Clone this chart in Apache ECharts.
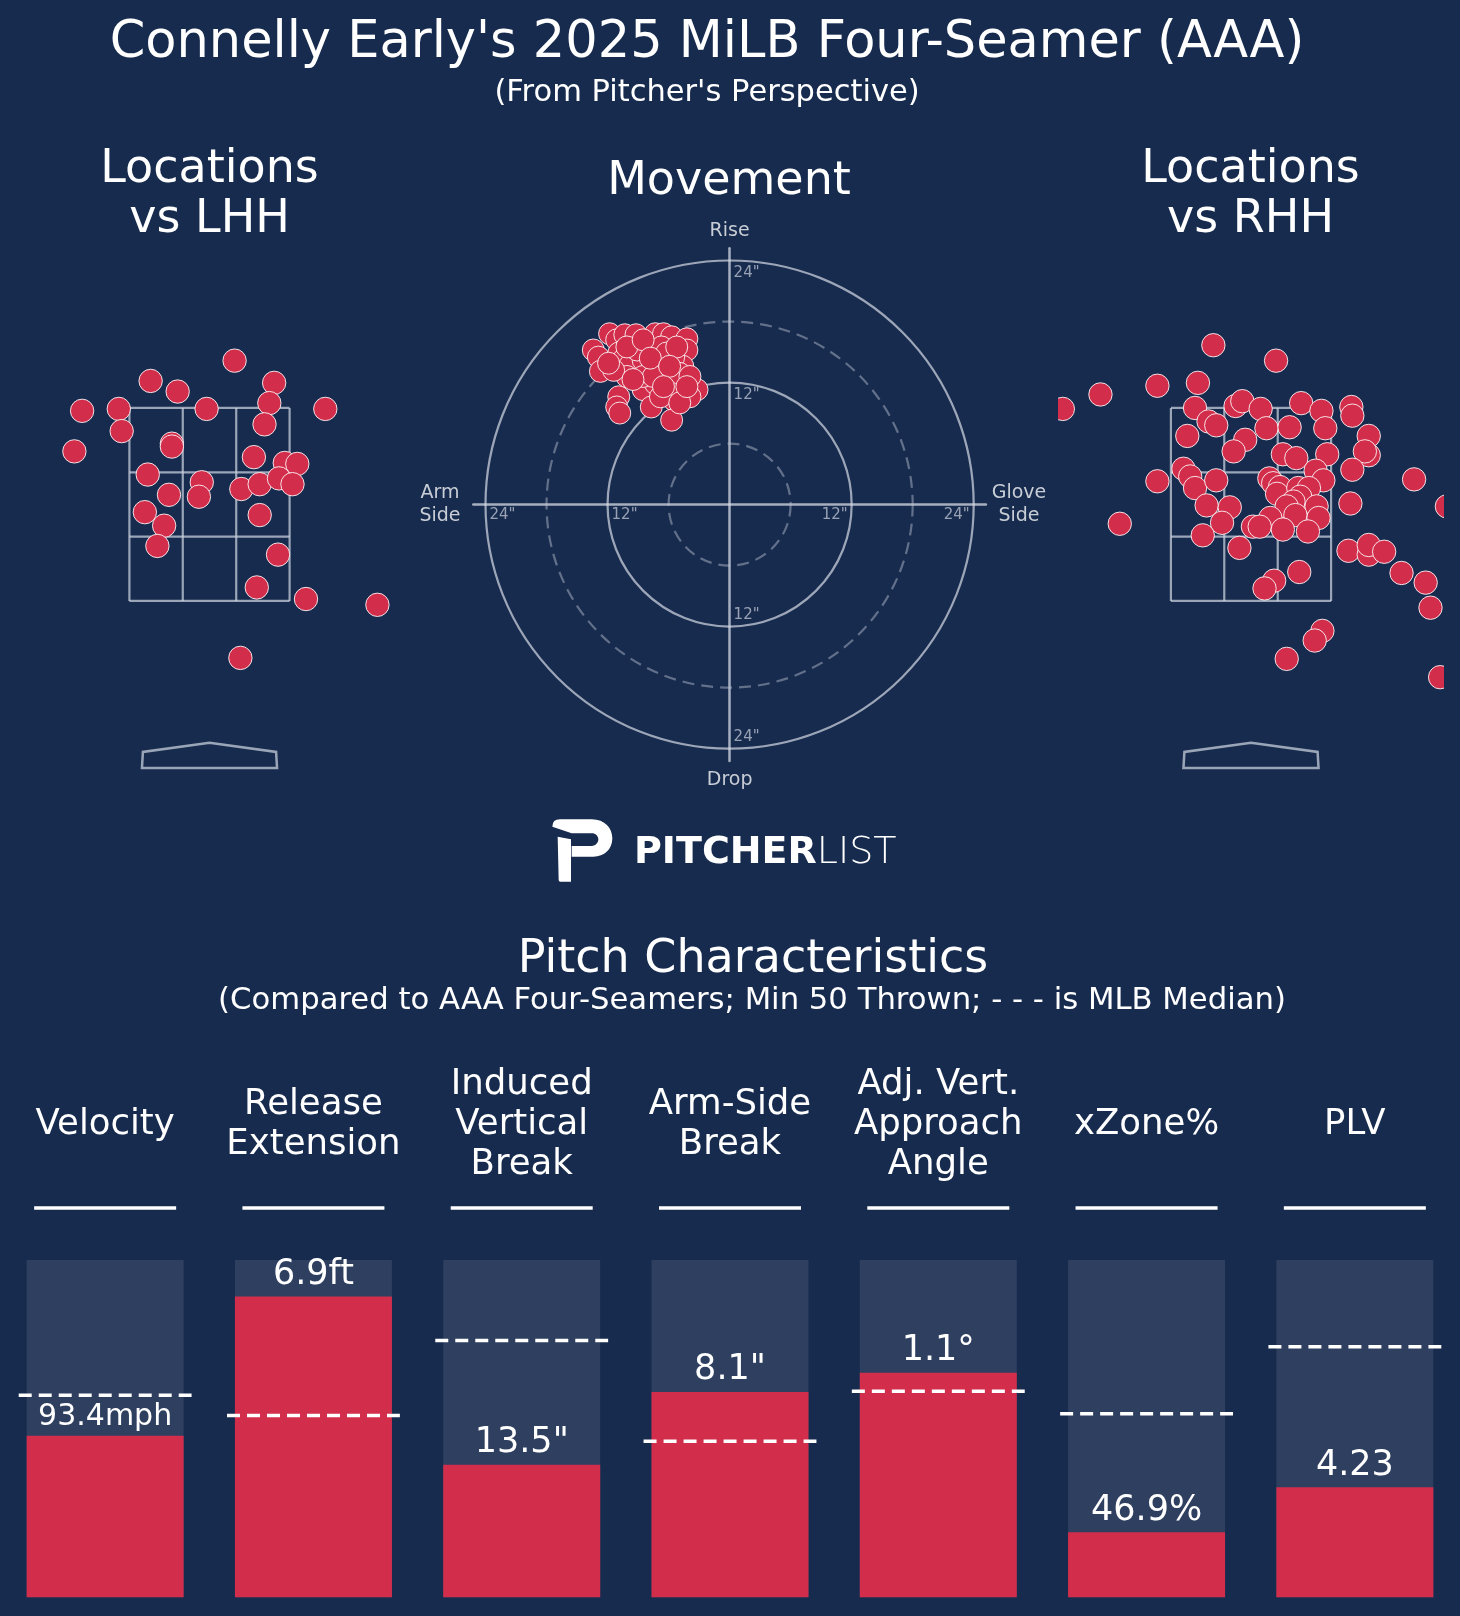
<!DOCTYPE html>
<html>
<head>
<meta charset="utf-8">
<script src="https://cdn.jsdelivr.net/npm/echarts@6/dist/echarts.min.js"></script>
<style>
  html, body { margin: 0; padding: 0; background: #172b4e; }
  #chart { width: 1460px; height: 1616px; }
</style>
</head>
<body>
<div id="chart"></div>
<script>
// pitch locations (plate_x ft, plate_z ft), pitcher's view
const lhhPitches = [
  [0.26, 3.99], [-0.61, 3.78], [-0.33, 3.67], [0.67, 3.76], [0.62, 3.55], [-1.32, 3.47],
  [-0.94, 3.49], [-0.03, 3.49], [1.20, 3.49], [-0.91, 3.26], [0.57, 3.33], [-1.40, 3.05],
  [-0.39, 3.13], [-0.39, 3.10], [0.46, 2.99], [0.78, 2.93], [0.91, 2.92], [-0.64, 2.81],
  [-0.08, 2.73], [-0.11, 2.58], [-0.42, 2.60], [0.33, 2.66], [0.52, 2.71], [0.72, 2.77],
  [0.86, 2.71], [-0.67, 2.42], [0.52, 2.39], [-0.47, 2.28], [-0.54, 2.07], [0.71, 1.98],
  [0.49, 1.64], [1.00, 1.52], [1.74, 1.46], [0.32, 0.91]
];
const rhhPitches = [
  [-0.39, 4.15], [0.26, 3.99], [-1.56, 3.64], [-0.97, 3.73], [-0.55, 3.76], [-1.95, 3.49],
  [-0.58, 3.50], [-0.16, 3.52], [-0.09, 3.57], [0.10, 3.49], [0.52, 3.55], [0.73, 3.47],
  [1.04, 3.51], [1.05, 3.42], [-0.44, 3.36], [-0.36, 3.32], [-0.66, 3.21], [-0.06, 3.17],
  [-0.18, 3.05], [0.16, 3.29], [0.40, 3.30], [0.77, 3.29], [1.22, 3.21], [1.22, 3.01],
  [1.18, 3.05], [0.79, 3.02], [0.33, 3.02], [0.47, 2.98], [1.05, 2.86], [-0.70, 2.87],
  [-0.63, 2.79], [-0.58, 2.67], [-0.36, 2.75], [-0.97, 2.74], [0.19, 2.77], [0.23, 2.72],
  [0.67, 2.85], [0.75, 2.75], [0.30, 2.68], [0.27, 2.61], [0.49, 2.67], [0.60, 2.67],
  [0.51, 2.58], [0.44, 2.53], [-0.46, 2.49], [-0.22, 2.47], [-0.30, 2.31], [0.37, 2.48],
  [0.68, 2.48], [0.46, 2.39], [0.70, 2.36], [0.20, 2.36], [0.02, 2.27], [0.09, 2.27],
  [0.33, 2.24], [0.59, 2.22], [-0.50, 2.18], [1.03, 2.51], [1.69, 2.76], [2.03, 2.48],
  [-1.36, 2.30], [-0.12, 2.05], [1.01, 2.02], [1.22, 1.98], [1.22, 2.08], [1.38, 2.01],
  [1.56, 1.79], [1.81, 1.69], [1.86, 1.43], [0.50, 1.80], [0.24, 1.71], [0.14, 1.63],
  [0.74, 1.19], [0.66, 1.09], [0.37, 0.90], [1.96, 0.71]
];
// movement (horizontal break in, arm side negative; induced vertical break in)
const movementPitches = [
  [-13.4, 15.2], [-12.9, 14.5], [-12.7, 13.1], [-11.8, 16.8], [-11.1, 16.2], [-10.9, 14.9],
  [-10.3, 16.7], [-9.2, 16.7], [-10.5, 14.2], [-10.9, 10.6], [-11.1, 9.6], [-10.8, 9.0],
  [-8.5, 11.3], [-7.7, 9.6], [-7.3, 16.8], [-6.5, 16.8], [-5.7, 16.5], [-4.2, 16.3],
  [-4.2, 15.2], [-4.6, 13.6], [-5.5, 14.5], [-5.5, 10.3], [-5.7, 8.3], [-3.2, 11.3],
  [-3.9, 10.6], [-4.6, 12.3], [-6.2, 12.7], [-7.3, 11.9], [-9.1, 13.2], [-9.8, 13.7],
  [-10.1, 12.6], [-8.5, 14.2], [-7.8, 15.2], [-6.7, 15.5], [-7.2, 13.6], [-8.5, 12.6],
  [-5.9, 11.6], [-4.9, 11.3], [-6.8, 10.6], [-4.9, 10.0], [-6.4, 13.7], [-9.1, 15.2],
  [-10.1, 15.5], [-11.4, 13.2], [-11.9, 13.9], [-4.9, 12.9], [-3.9, 12.6], [-7.5, 12.6],
  [-6.2, 14.9], [-5.2, 15.5], [-8.5, 16.2], [-7.8, 14.4], [-5.9, 13.6], [-4.2, 11.6],
  [-9.5, 12.3], [-6.5, 11.6]
];
const ringRadii = [6, 12, 18, 24];
const ringLabels = [12, 24];
// strike zone and plate (ft)
const zoneX = [-0.83, -0.277, 0.277, 0.83];
const zoneZ = [1.5, 2.167, 2.833, 3.5];
const plateX = [-0.70, 0.70, 0.69, 0, -0.69];
const plateZ = [-0.23, -0.23, -0.065, 0.03, -0.065];
// pitch characteristics
const metricNames = ['Velocity', 'Release\nExtension', 'Induced\nVertical\nBreak', 'Arm-Side\nBreak',
  'Adj. Vert.\nApproach\nAngle', 'xZone%', 'PLV'];
const metricLabels = ['93.4mph', '6.9ft', '13.5"', '8.1"', '1.1°', '46.9%', '4.23'];
const metricPct = [0.479, 0.892, 0.393, 0.609, 0.666, 0.193, 0.326];
const medianPct = [0.599, 0.539, 0.761, 0.463, 0.611, 0.544, 0.743];

const bg = '#172b4e';
const red = '#d22e4b';
const barBg = '#2e3f60';
const font = '"DejaVu Sans", sans-serif';

const chart = echarts.init(document.getElementById('chart'));

function dot(params, api) {
  const p = api.coord([api.value(0), api.value(1)]);
  return {
    type: 'circle',
    shape: { cx: p[0], cy: p[1], r: 11.7 },
    style: { fill: red, stroke: 'rgba(255,255,255,0.85)', lineWidth: 1 }
  };
}

function zoneAndPlate(params, api) {
  const kids = [];
  const ls = { stroke: 'rgba(200,207,220,0.75)', lineWidth: 2.2 };
  zoneX.forEach(function (x) {
    const a = api.coord([x, zoneZ[0]]), b = api.coord([x, zoneZ[3]]);
    kids.push({ type: 'line', shape: { x1: a[0], y1: a[1], x2: b[0], y2: b[1] }, style: ls });
  });
  zoneZ.forEach(function (z) {
    const a = api.coord([zoneX[0], z]), b = api.coord([zoneX[3], z]);
    kids.push({ type: 'line', shape: { x1: a[0], y1: a[1], x2: b[0], y2: b[1] }, style: ls });
  });
  const pts = plateX.map(function (x, i) { return api.coord([x, plateZ[i]]); });
  kids.push({ type: 'polygon', shape: { points: pts }, style: { fill: 'none', stroke: 'rgba(200,207,220,0.75)', lineWidth: 2.5 } });
  return { type: 'group', children: kids };
}

function ring(params, api) {
  const c = api.coord([0, 0]);
  const r = api.size([api.value(0), 0])[0];
  const dashed = params.dataIndex % 2 === 0;
  return {
    type: 'circle',
    shape: { cx: c[0], cy: c[1], r: r },
    style: dashed
      ? { fill: 'none', stroke: 'rgba(190,198,212,0.45)', lineWidth: 2.2, lineDash: [12, 7] }
      : { fill: 'none', stroke: 'rgba(215,220,230,0.7)', lineWidth: 2.2 }
  };
}

function ringTicks(params, api) {
  const c = api.coord([0, 0]);
  const kids = [];
  const st = { fill: 'rgba(195,201,214,0.75)', fontSize: 15, fontFamily: font, verticalAlign: 'middle' };
  ringLabels.forEach(function (v) {
    const d = api.size([v, v]);
    const t = v + '"';
    kids.push({ type: 'text', x: c[0] + 4, y: c[1] - d[1] + 13, style: Object.assign({ text: t, align: 'left' }, st) });
    kids.push({ type: 'text', x: c[0] + 4, y: c[1] + d[1] - 12, style: Object.assign({ text: t, align: 'left' }, st) });
    kids.push({ type: 'text', x: c[0] - d[0] + 4, y: c[1] + 11, style: Object.assign({ text: t, align: 'left' }, st) });
    kids.push({ type: 'text', x: c[0] + d[0] - 4, y: c[1] + 11, style: Object.assign({ text: t, align: 'right' }, st) });
  });
  return { type: 'group', children: kids };
}

function medianLine(params, api) {
  const p = api.coord([api.value(0), api.value(1)]);
  const half = api.size([1, 0])[0] * 0.415;
  return {
    type: 'line',
    shape: { x1: p[0] - half, y1: p[1], x2: p[0] + half, y2: p[1] },
    style: { stroke: '#ffffff', lineWidth: 3.5, lineDash: [13, 7] }
  };
}

function underline(params, api) {
  const p = api.coord([api.value(0), api.value(1)]);
  return {
    type: 'line',
    shape: { x1: p[0] - 71, y1: p[1] - 52, x2: p[0] + 71, y2: p[1] - 52 },
    style: { stroke: '#ffffff', lineWidth: 3.5 }
  };
}

// pitcher list "P" mark, drawn once
function logoMark() {
  const common = { x: 545, y: 810, scaleX: 1 / 3, scaleY: 1 / 3, style: { fill: '#ffffff' } };
  return {
    type: 'group',
    children: [
      Object.assign({ type: 'path', shape: { pathData: 'M22 50 Q22 28 45 28 L140 28 C180 28 202 55 202 85 C202 118 178 140 145 140 L80 140 L80 108 L140 108 C152 108 160 98 160 88 C160 78 152 70 140 70 L80 70 Z' } }, common),
      Object.assign({ type: 'path', shape: { pathData: 'M38 80 L78 88 L78 215 L46 215 Q41 215 41 210 Z' } }, common)
    ]
  };
}

const hidden = { show: false };
const locX = { type: 'value', min: -2, max: 2, show: false };
const locY = { type: 'value', min: -0.6, max: 4.6, show: false };
const moveAxisLine = { show: true, onZero: true, lineStyle: { color: 'rgba(215,220,230,0.75)', width: 2.5 } };

function txt(x, y, text, size, color, lh) {
  return {
    type: 'text', x: x, y: y, z: 10,
    style: {
      text: text, fill: color || '#ffffff', fontSize: size, fontFamily: font,
      align: 'center', verticalAlign: 'middle', lineHeight: lh || size * 1.2
    }
  };
}

chart.setOption({
  backgroundColor: bg,
  animation: false,
  grid: [
    { left: 16.5, top: 301.8, width: 386, height: 501.8 },
    { left: 473.3, top: 248.3, width: 512.6, height: 512.6 },
    { left: 1058, top: 301.8, width: 386, height: 501.8 },
    { left: 1, top: 1260, width: 1458, height: 337.3 }
  ],
  xAxis: [
    Object.assign({ gridIndex: 0 }, locX),
    {
      gridIndex: 1, type: 'value', min: -25.2, max: 25.2,
      axisLine: moveAxisLine, axisTick: hidden, axisLabel: hidden, splitLine: hidden
    },
    Object.assign({ gridIndex: 2 }, locX),
    {
      gridIndex: 3, type: 'category', data: metricNames, position: 'top',
      axisLine: hidden, axisTick: hidden, splitLine: hidden,
      axisLabel: {
        interval: 0, margin: 135, verticalAlign: 'middle', color: '#ffffff',
        fontSize: 35.5, lineHeight: 40, fontFamily: font
      }
    }
  ],
  yAxis: [
    Object.assign({ gridIndex: 0 }, locY),
    {
      gridIndex: 1, type: 'value', min: -25.2, max: 25.2,
      axisLine: moveAxisLine, axisTick: hidden, axisLabel: hidden, splitLine: hidden
    },
    Object.assign({ gridIndex: 2 }, locY),
    { gridIndex: 3, type: 'value', min: 0, max: 1, show: false }
  ],
  graphic: [
    txt(707, 44, "Connelly Early's 2025 MiLB Four-Seamer (AAA)", 51),
    txt(707, 93, "(From Pitcher's Perspective)", 30.5),
    txt(209.5, 195, 'Locations\nvs LHH', 46, '#ffffff', 50),
    txt(729, 182, 'Movement', 46),
    txt(1250.5, 195, 'Locations\nvs RHH', 46, '#ffffff', 50),
    txt(729.6, 231, 'Rise', 19, '#c8cdd6'),
    txt(729.6, 780, 'Drop', 19, '#c8cdd6'),
    txt(440, 505, 'Arm\nSide', 19, '#c8cdd6', 23),
    txt(1019, 505, 'Glove\nSide', 19, '#c8cdd6', 23),
    txt(753, 960, 'Pitch Characteristics', 46),
    txt(752, 1001, '(Compared to AAA Four-Seamers; Min 50 Thrown; - - - is MLB Median)', 30.7),
    {
      type: 'text', x: 634, y: 853,
      style: {
        text: '{b|PITCHER}{l|LIST}', align: 'left', verticalAlign: 'middle',
        rich: {
          b: { fontFamily: font, fontWeight: 'bold', fontSize: 38, fill: '#ffffff' },
          l: { fontFamily: font, fontWeight: 200, fontSize: 38, fill: '#ffffff' }
        }
      }
    }
  ],
  series: [
    {
      type: 'custom', xAxisIndex: 0, yAxisIndex: 0, clip: true,
      data: [[0, 0]], renderItem: zoneAndPlate, z: 2
    },
    {
      type: 'custom', xAxisIndex: 0, yAxisIndex: 0, clip: true,
      data: lhhPitches, renderItem: dot, z: 3
    },
    {
      type: 'custom', xAxisIndex: 2, yAxisIndex: 2, clip: true,
      data: [[0, 0]], renderItem: zoneAndPlate, z: 2
    },
    {
      type: 'custom', xAxisIndex: 2, yAxisIndex: 2, clip: true,
      data: rhhPitches, renderItem: dot, z: 3
    },
    {
      type: 'custom', xAxisIndex: 1, yAxisIndex: 1,
      data: ringRadii.map(function (r, i) { return [r, i]; }), renderItem: ring, z: 2
    },
    {
      type: 'custom', xAxisIndex: 1, yAxisIndex: 1,
      data: [[0, 0]], renderItem: ringTicks, z: 2
    },
    {
      type: 'scatter', xAxisIndex: 1, yAxisIndex: 1, data: movementPitches,
      symbolSize: 22, z: 4,
      itemStyle: { color: red, borderColor: 'rgba(255,255,255,0.85)', borderWidth: 1, opacity: 1 }
    },
    {
      type: 'bar', xAxisIndex: 3, yAxisIndex: 3, barWidth: 157,
      // long labels were shrunk in the original
      data: metricPct.map(function (v, i) {
        return { value: v, label: { fontSize: metricLabels[i].length > 5 ? 30 : 35 } };
      }),
      showBackground: true, backgroundStyle: { color: barBg },
      itemStyle: { color: red },
      label: {
        show: true, position: 'top', distance: 4, color: '#ffffff', fontSize: 35, fontFamily: font,
        formatter: function (p) { return metricLabels[p.dataIndex]; }
      }
    },
    {
      type: 'custom', xAxisIndex: 3, yAxisIndex: 3, z: 5,
      data: medianPct.map(function (v, i) { return [i, v]; }), renderItem: medianLine
    },
    {
      type: 'custom', xAxisIndex: 3, yAxisIndex: 3, clip: false,
      data: metricNames.map(function (n, i) { return [i, 1]; }), renderItem: underline
    },
    {
      type: 'custom', xAxisIndex: 3, yAxisIndex: 3, clip: false,
      data: [[0, 0]], renderItem: logoMark
    }
  ]
});
</script>
</body>
</html>
